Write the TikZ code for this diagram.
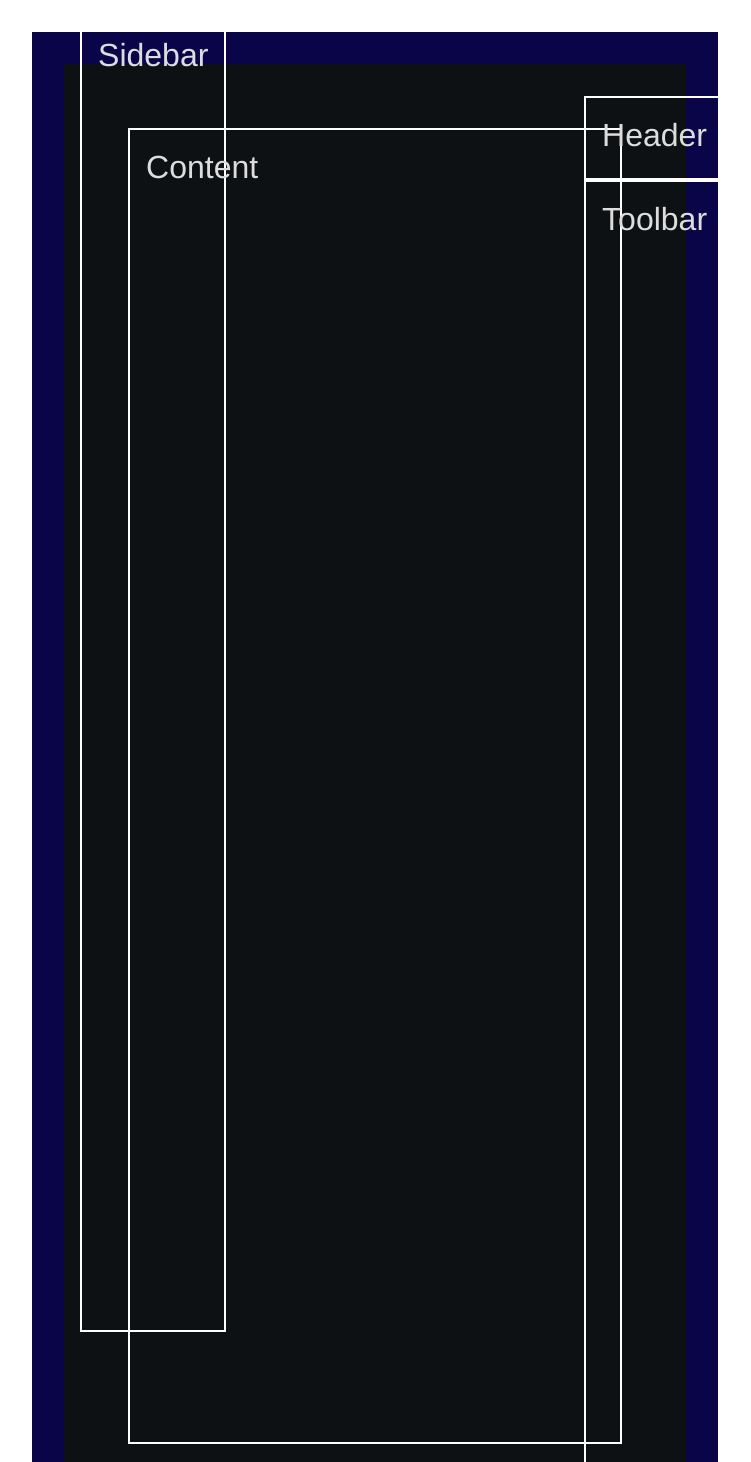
\documentclass[tikz,border=0pt]{standalone}
\usepackage{fontspec}
\setmainfont{Liberation Sans}
\definecolor{outerblue}{HTML}{0A0548}
\definecolor{innergray}{HTML}{0D1114}
\definecolor{labelgray}{HTML}{DDDDDD}
\begin{document}
\begin{tikzpicture}[x=1pt,y=-1pt,
  panel/.style={draw=white, line width=2pt, inner sep=0pt, outer sep=0pt, anchor=north west},
  paneltext/.style={text=labelgray, font=\fontsize{32}{38}\selectfont, inner sep=0pt, anchor=base west}]
\useasboundingbox (0,0) rectangle (750,1462);
\fill[outerblue] (32,32) rectangle (718,1462);
\fill[innergray] (64,64) rectangle (686,1462);
\begin{scope}
\clip (32,32) rectangle (718,1462);
\node[panel, minimum width=144pt, minimum height=1313pt] (sidebar) at (81,18) {};
\node[paneltext] (sidebarlabel) at ([xshift=17pt,yshift=-48pt]sidebar.north west) {Sidebar};
\node[panel, minimum width=492pt, minimum height=1314pt] (content) at (129,129) {};
\node[paneltext] (contentlabel) at ([xshift=17pt,yshift=-49pt]content.north west) {Content};
\node[panel, minimum width=200pt, minimum height=82pt] (header) at (585,97) {};
\node[paneltext] (headerlabel) at ([xshift=17pt,yshift=-49pt]header.north west) {Header};
\node[panel, minimum width=200pt, minimum height=1400pt] (toolbar) at (585,181) {};
\node[paneltext] (toolbarlabel) at ([xshift=17pt,yshift=-49pt]toolbar.north west) {Toolbar};
\end{scope}
\end{tikzpicture}
\end{document}
